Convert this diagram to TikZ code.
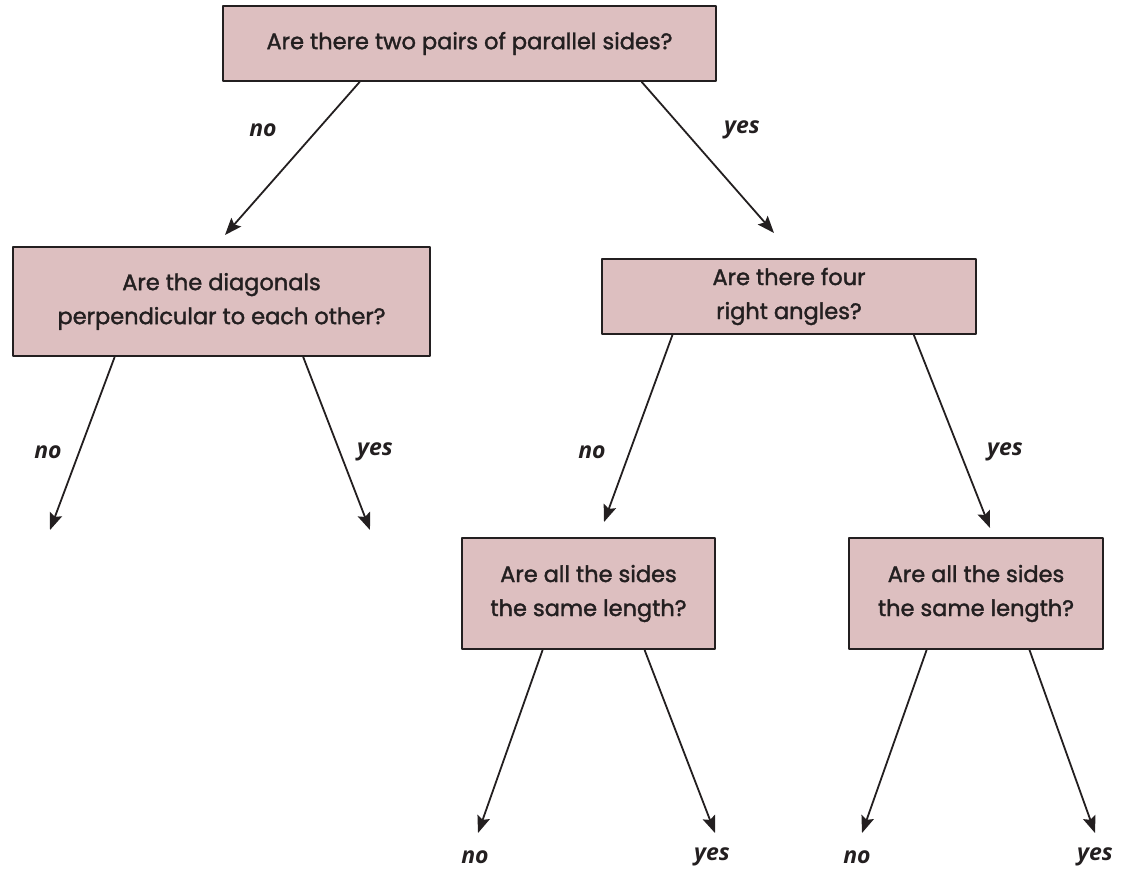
\documentclass[tikz,border=0pt]{standalone}
\usepackage{fontspec}
\setmainfont{Poppins}[FakeBold=1.6]
\newfontfamily\ansfont{Open Sans}
\usepackage{tikz}
\usetikzlibrary{arrows.meta}
\usetikzlibrary{calc}
\definecolor{boxpink}{RGB}{221,191,192}
\definecolor{ink}{RGB}{35,31,32}

\begin{document}
\begin{tikzpicture}[line cap=round,line join=round,>={Stealth[length=17pt,width=13pt,inset=3pt]},x=1pt,y=-1pt,
    q/.style={rectangle, draw=ink, fill=boxpink, line width=2pt, align=center, inner sep=0pt,
              font=\fontsize{22.5}{34}\selectfont, text=ink},
    ans/.style={font=\fontsize{23}{26}\selectfont\ansfont\bfseries\itshape, text=ink},
    arr/.style={->, draw=ink, line width=1.8pt}]
                    \useasboundingbox (0,0) rectangle (1129,869);

                    \node[q, minimum width=493, minimum height=75] (top) at (469.5,43.5) {Are there two pairs of parallel sides?};
                    \node[q, minimum width=417, minimum height=109] (diag) at (221.5,301.5) {Are the diagonals\\perpendicular to each other?};
                    \node[q, minimum width=374, minimum height=75] (four) at (789,296.5) {Are there four\\right angles?};
                    \node[q, minimum width=253, minimum height=111] (sidesA) at (588.5,593.5) {Are all the sides\\the same length?};
                    \node[q, minimum width=254, minimum height=111] (sidesB) at (976,593.5) {Are all the sides\\the same length?};

                    \coordinate (topN) at (225,235);
                    \coordinate (topY) at (774,233);
                    \coordinate (diagN) at (50,530);
                    \coordinate (diagY) at (370,530);
                    \coordinate (fourN) at (604,522);
                    \coordinate (fourY) at (990,528);
                    \coordinate (sidesAN) at (478,833);
                    \coordinate (sidesAY) at (715,833);
                    \coordinate (sidesBN) at (862,833);
                    \coordinate (sidesBY) at (1095,833);

                    \draw[arr] ($(top.south west)!0.278!(top.south east)$) -- (topN);
                    \draw[arr] ($(top.south west)!0.848!(top.south east)$) -- (topY);
                    \draw[arr] ($(diag.south west)!0.245!(diag.south east)$) -- (diagN);
                    \draw[arr] ($(diag.south west)!0.695!(diag.south east)$) -- (diagY);
                    \draw[arr] ($(four.south west)!0.19!(four.south east)$) -- (fourN);
                    \draw[arr] ($(four.south west)!0.832!(four.south east)$) -- (fourY);
                    \draw[arr] ($(sidesA.south west)!0.32!(sidesA.south east)$) -- (sidesAN);
                    \draw[arr] ($(sidesA.south west)!0.72!(sidesA.south east)$) -- (sidesAY);
                    \draw[arr] ($(sidesB.south west)!0.307!(sidesB.south east)$) -- (sidesBN);
                    \draw[arr] ($(sidesB.south west)!0.709!(sidesB.south east)$) -- (sidesBY);

                    \node[ans] (l1) at (263,130) {no};
                    \node[ans] (l2) at (742,130) {yes};
                    \node[ans] (l3) at (48,452) {no};
                    \node[ans] (l4) at (375,452) {yes};
                    \node[ans] (l5) at (592,452) {no};
                    \node[ans] (l6) at (1005,452) {yes};
                    \node[ans] (l7) at (475,857) {no};
                    \node[ans] (l8) at (712,857) {yes};
                    \node[ans] (l9) at (857,857) {no};
                    \node[ans] (l10) at (1095,857) {yes};
\end{tikzpicture}
\end{document}
